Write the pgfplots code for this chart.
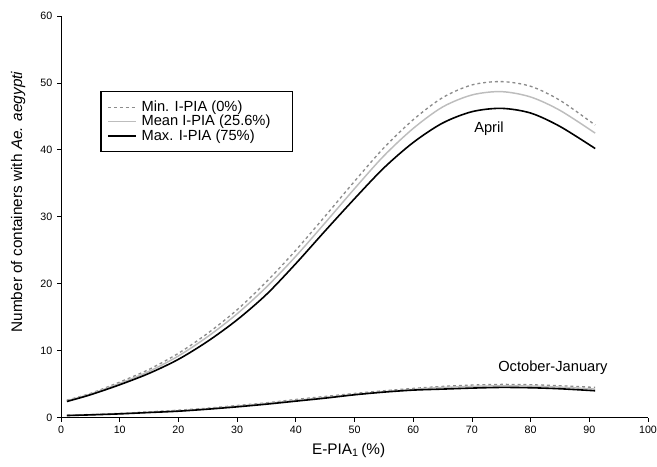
\documentclass[border=0pt]{standalone}
\usepackage{fontspec}
\setmainfont{Liberation Sans}
\usepackage{pgfplots}
\usepackage{pgfplotstable}
\pgfplotsset{compat=1.18}

\definecolor{mingray}{HTML}{8C8C8C}
\definecolor{meangray}{HTML}{BDBDBD}

% April: x, min, mean, max
\pgfplotstableread{
x    mn    me    mx
1    2.6   2.5   2.4
5    3.6   3.5   3.4
10   5.3   5.1   4.9
15   7.2   6.9   6.6
20   9.6   9.2   8.7
25   12.6  12.1  11.4
30   16.1  15.5  14.6
35   20.3  19.5  18.4
40   25.0  24.1  23.0
45   30.1  29.1  27.9
50   35.3  34.2  32.7
55   40.3  39.1  37.3
60   44.5  43.2  41.1
65   47.8  46.4  44.0
70   49.7  48.2  45.7
75   50.2  48.7  46.2
80   49.5  47.9  45.5
85   47.4  45.9  43.5
91   43.7  42.5  40.2
}\april

% October-January
\pgfplotstableread{
x    mn    me    mx
1    0.35  0.30  0.30
5    0.45  0.42  0.40
10   0.62  0.58  0.55
15   0.85  0.80  0.75
20   1.10  1.00  0.95
25   1.40  1.30  1.25
30   1.80  1.70  1.60
35   2.20  2.10  2.00
40   2.70  2.55  2.45
45   3.15  3.00  2.90
50   3.60  3.45  3.40
55   4.00  3.85  3.80
60   4.35  4.20  4.10
65   4.65  4.50  4.25
70   4.85  4.65  4.40
75   4.95  4.75  4.50
80   4.90  4.70  4.45
85   4.75  4.55  4.30
91   4.50  4.25  4.00
}\octjan

\begin{document}
\begin{tikzpicture}
\begin{axis}[
  scale only axis, width=440pt, height=301pt,
  xmin=0, xmax=100, ymin=0, ymax=60,
  xtick={0,10,...,100}, ytick={0,10,...,60},
  axis x line*=bottom, axis y line*=left,
  axis line style={line width=0.6pt},
  tick style={black, line width=0.6pt},
  tick align=outside, major tick length=3pt,
  ticklabel style={font=\fontsize{8}{9}\selectfont},
  /pgf/number format/assume math mode=true,
  xlabel={E-PIA\textsubscript{1}\,(\%)},
  ylabel={Number of containers with \textit{Ae. aegypti}},
  label style={font=\fontsize{11.5}{13}\selectfont},
  xlabel style={at={(axis description cs:0.49,-0.082)}, anchor=center},
  ylabel style={at={(axis description cs:-0.073,0.537)}, anchor=center, rotate=0},
  legend style={draw=black, line width=1.3pt, at={(0.066,0.814)}, anchor=north west,
    font=\fontsize{11}{13}\selectfont, inner xsep=5pt, inner ysep=6.5pt, row sep=0pt,
    nodes={inner xsep=3.5pt, inner ysep=0.6pt}},
  legend cell align=left,
  legend image code/.code={\draw[#1] (0pt,0pt) -- (21pt,0pt);},
]
\addplot[mingray, line width=1pt, dash pattern=on 2.2pt off 2.2pt, smooth] table[x=x,y=mn] {\april};
\addplot[meangray, line width=1.1pt, smooth] table[x=x,y=me] {\april};
\addplot[black, line width=1.2pt, smooth] table[x=x,y=mx] {\april};
\legend{Min. I-PIA (0\%), Mean I-PIA (25.6\%)\rule{8pt}{0pt}, Max. I-PIA (75\%)}
\addplot[mingray, line width=1pt, dash pattern=on 2.2pt off 2.2pt, smooth, forget plot] table[x=x,y=mn] {\octjan};
\addplot[meangray, line width=1.1pt, smooth, forget plot] table[x=x,y=me] {\octjan};
\addplot[black, line width=1.2pt, smooth, forget plot] table[x=x,y=mx] {\octjan};
\node[font=\fontsize{11}{13}\selectfont] at (axis cs:72.9,43.1) {April};
\node[font=\fontsize{11}{13}\selectfont] at (axis cs:83.8,7.5) {October-January};
\end{axis}
\pgfresetboundingbox
\path ([xshift=-45.75pt,yshift=-36.75pt]current axis.south west)
  rectangle ([xshift=6.75pt,yshift=12pt]current axis.north east);
\end{tikzpicture}
\end{document}
